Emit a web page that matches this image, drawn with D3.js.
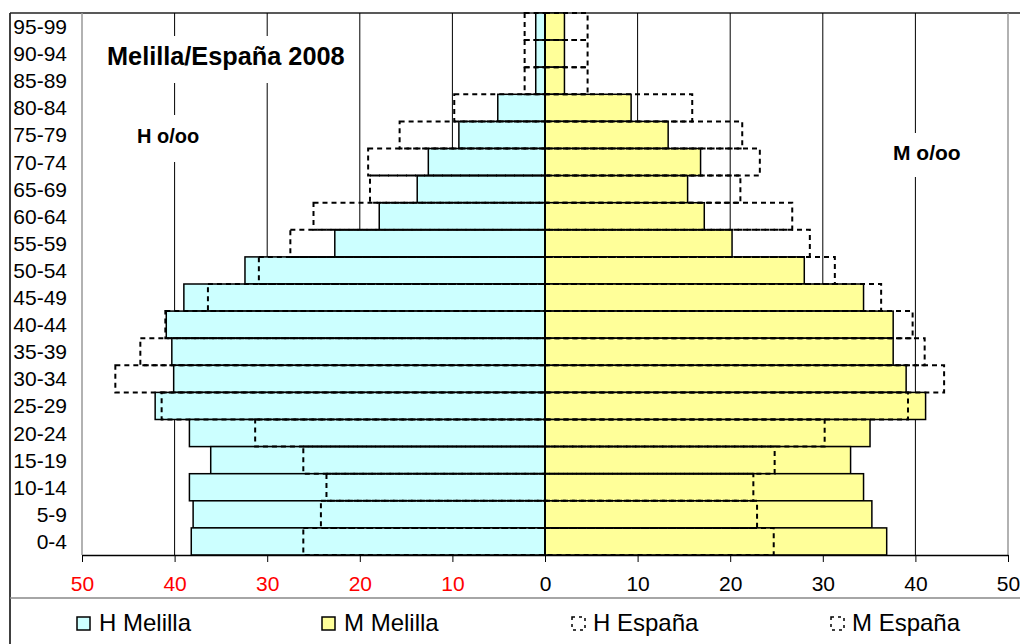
<!DOCTYPE html>
<html><head><meta charset="utf-8">
<script src="https://cdn.jsdelivr.net/npm/d3@7/dist/d3.min.js"></script>
<style>
html,body{margin:0;padding:0;background:#fff;}
svg{display:block;font-family:Arial,"Liberation Sans",sans-serif;}
</style></head>
<body>
<svg id="chart" width="1020" height="644"></svg>
<script>
const ageGroups = ["95-99","90-94","85-89","80-84","75-79","70-74","65-69","60-64","55-59","50-54","45-49","40-44","35-39","30-34","25-29","20-24","15-19","10-14","5-9","0-4"];
const hMelilla = [1.0,1.0,1.0,5.1,9.3,12.6,13.8,17.9,22.7,32.4,39.0,40.9,40.3,40.1,42.1,38.4,36.1,38.4,38.0,38.2];
const mMelilla = [2.1,2.1,2.1,9.3,13.3,16.8,15.4,17.2,20.2,28.0,34.4,37.6,37.6,39.0,41.1,35.1,33.0,34.4,35.3,36.9];
const hEspana  = [2.2,2.2,2.2,9.8,15.7,19.1,18.9,25.0,27.5,30.9,36.4,41.0,43.7,46.4,41.4,31.3,26.1,23.6,24.2,26.1];
const mEspana  = [4.6,4.6,4.6,15.9,21.3,23.2,21.1,26.7,28.6,31.3,36.3,39.7,41.0,43.1,39.2,30.2,24.8,22.5,22.9,24.7];
const tickValues = [-50,-40,-30,-20,-10,0,10,20,30,40,50];
const legendLabels = ["H Melilla","M Melilla","H España","M España"];

const svg = d3.select("#chart");
const L = 82, R = 1008, T = 13, B = 555;
const x = d3.scaleLinear().domain([-50,50]).range([L,R]);
const y = d3.scaleBand().domain(ageGroups).range([T,B]).padding(0);

// chart area frame
svg.append("line").attr("x1",10).attr("x2",10).attr("y1",T).attr("y2",644).attr("stroke","#000").attr("stroke-width",1.5);
svg.append("line").attr("x1",10).attr("x2",1020).attr("y1",T).attr("y2",T).attr("stroke","#222").attr("stroke-width",1.5);
svg.append("line").attr("x1",10).attr("x2",1020).attr("y1",598).attr("y2",598).attr("stroke","#888").attr("stroke-width",1.5);

// gridlines
svg.append("g").selectAll("line").data(tickValues.filter(d=>d!==0 && Math.abs(d)!==50)).join("line")
  .attr("x1",d=>x(d)).attr("x2",d=>x(d)).attr("y1",T).attr("y2",B)
  .attr("stroke","#000").attr("stroke-width",1);
// plot border
svg.append("line").attr("x1",L).attr("x2",L).attr("y1",T).attr("y2",B).attr("stroke","#999").attr("stroke-width",1.5);
svg.append("line").attr("x1",R).attr("x2",R).attr("y1",T).attr("y2",B).attr("stroke","#999").attr("stroke-width",1.5);

// white boxes behind texts
svg.append("rect").attr("x",100).attr("y",36).attr("width",252).attr("height",47).attr("fill","#fff");
svg.append("rect").attr("x",130).attr("y",115).attr("width",78).attr("height",47).attr("fill","#fff");
svg.append("rect").attr("x",886).attr("y",133).attr("width",84).attr("height",44).attr("fill","#fff");

// Melilla bars
svg.append("g").selectAll("rect").data(ageGroups).join("rect")
  .attr("x",(d,i)=>x(-hMelilla[i])).attr("y",d=>y(d))
  .attr("width",(d,i)=>x(0)-x(-hMelilla[i])).attr("height",y.bandwidth())
  .attr("fill","#CCFFFF").attr("stroke","#000").attr("stroke-width",1.5);
svg.append("g").selectAll("rect").data(ageGroups).join("rect")
  .attr("x",x(0)).attr("y",d=>y(d))
  .attr("width",(d,i)=>x(mMelilla[i])-x(0)).attr("height",y.bandwidth())
  .attr("fill","#FFFF99").attr("stroke","#000").attr("stroke-width",1.5);

// España outlines
svg.append("g").selectAll("rect").data(ageGroups).join("rect")
  .attr("x",(d,i)=>x(-hEspana[i])).attr("y",d=>y(d))
  .attr("width",(d,i)=>x(0)-x(-hEspana[i])).attr("height",y.bandwidth())
  .attr("fill","none").attr("stroke","#000").attr("stroke-width",2).attr("stroke-dasharray","5,4");
svg.append("g").selectAll("rect").data(ageGroups).join("rect")
  .attr("x",x(0)).attr("y",d=>y(d))
  .attr("width",(d,i)=>x(mEspana[i])-x(0)).attr("height",y.bandwidth())
  .attr("fill","none").attr("stroke","#000").attr("stroke-width",2).attr("stroke-dasharray","5,4");

// zero line
svg.append("line").attr("x1",x(0)).attr("x2",x(0)).attr("y1",T).attr("y2",B).attr("stroke","#000").attr("stroke-width",2);

// x axis
const ax = svg.append("g").attr("transform",`translate(0,${B})`)
  .call(d3.axisBottom(x).tickValues(tickValues).tickSize(7).tickSizeOuter(0).tickFormat(d=>Math.abs(d)));
ax.select(".domain").attr("stroke","#000").attr("stroke-width",1.5);
ax.selectAll(".tick line").attr("stroke","#000");
ax.selectAll(".tick text").attr("font-size",21).attr("font-family","Arial, 'Liberation Sans', sans-serif")
  .attr("y",21).attr("fill",d=>d<0?"#FF0000":"#000");

// category labels
svg.append("g").selectAll("text").data(ageGroups).join("text")
  .attr("x",67).attr("y",d=>y(d)+y.bandwidth()/2+7.5)
  .attr("text-anchor","end").attr("font-size",21).attr("fill","#000").text(d=>d);

// titles
svg.append("text").attr("x",107).attr("y",65).attr("font-size",25.3).attr("font-weight","bold").text("Melilla/España 2008");
svg.append("text").attr("x",137).attr("y",143).attr("font-size",20).attr("font-weight","bold").text("H o/oo");
svg.append("text").attr("x",893).attr("y",160).attr("font-size",21).attr("font-weight","bold").text("M o/oo");

// legend
const legX = [77,322,572,831];
const lg = svg.append("g");
legendLabels.forEach((lab,i)=>{
  const sw = lg.append("rect").attr("x",legX[i]).attr("y",617).attr("width",13).attr("height",13);
  if(i<2) sw.attr("fill",i===0?"#CCFFFF":"#FFFF99").attr("stroke","#000").attr("stroke-width",1.5);
  else sw.attr("fill","none").attr("stroke","#000").attr("stroke-width",1.5).attr("stroke-dasharray","3,4");
  lg.append("text").attr("x",legX[i]+(i<2?22:21)).attr("y",631).attr("font-size",24).attr("fill","#000").text(lab);
});
</script>
</body></html>
